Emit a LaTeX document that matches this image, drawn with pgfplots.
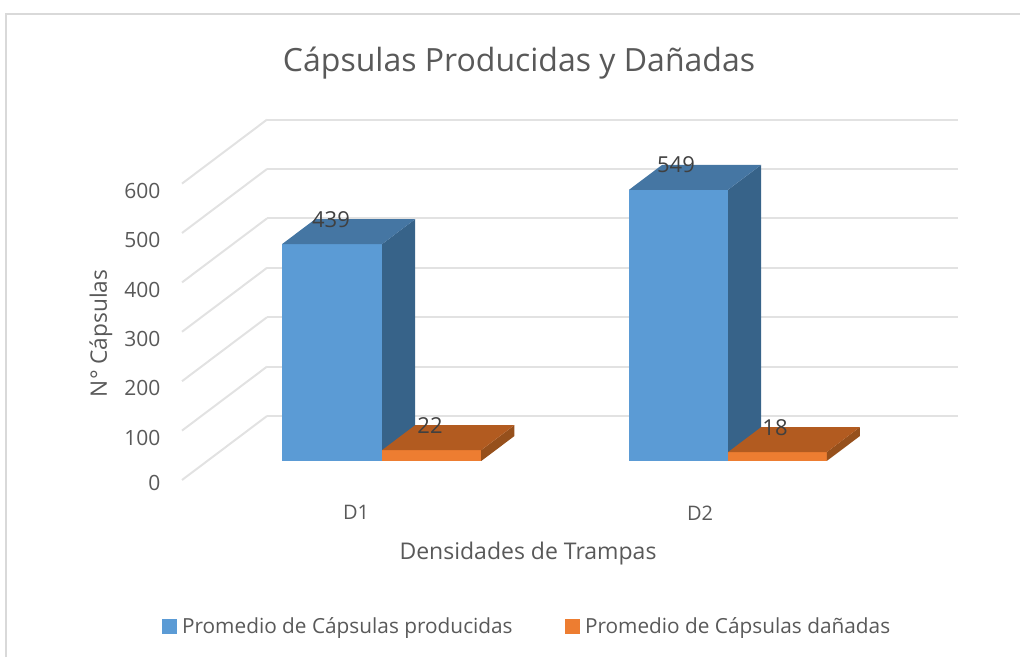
\documentclass[border=0pt]{standalone}
\usepackage{fontspec}
\setmainfont{Open Sans}
\usepackage{pgfplots}
\pgfplotsset{compat=1.18}
\usetikzlibrary{calc}
\definecolor{azul}{HTML}{5B9BD5}
\definecolor{azultop}{HTML}{4576A3}
\definecolor{azulside}{HTML}{376389}
\definecolor{naranja}{HTML}{ED7D31}
\definecolor{naranjatop}{HTML}{B25B20}
\definecolor{naranjaside}{HTML}{96501C}
\definecolor{texto}{HTML}{595959}
\definecolor{rejilla}{HTML}{E2E2E2}
% bar: x0, x1, value, front, top, side colours (depth runs from y=.297 to y=.687)
\newcommand{\barra}[6]{%
  \addplot3[forget plot,draw=none,fill=#4] coordinates {(#1,.297,0) (#2,.297,0) (#2,.297,#3) (#1,.297,#3)} --cycle;
  \addplot3[forget plot,draw=none,fill=#6] coordinates {(#2,.297,0) (#2,.687,0) (#2,.687,#3) (#2,.297,#3)} --cycle;
  \addplot3[forget plot,draw=none,fill=#5] coordinates {(#1,.297,#3) (#2,.297,#3) (#2,.687,#3) (#1,.687,#3)} --cycle;
}
\begin{document}
\begin{tikzpicture}
\begin{axis}[
    x={(1pt,0pt)}, y={(85pt,64pt)}, z={(0pt,.494pt)},
    xmin=0, xmax=691, ymin=0, ymax=1, zmin=0, zmax=600,
    clip=false,
    axis line style={draw=none},
    major tick style={draw=none},
    zmajorgrids=true,
    major grid style={rejilla,line width=2pt},
    xtick={179.5,523.5}, xticklabels={D1,D2},
    ytick=\empty,
    ztick={0,100,...,600},
    /pgf/number format/assume math mode=true,
    xticklabel style={yshift=-22pt,font=\fontsize{20}{22}\selectfont,text=texto},
    zticklabel style={xshift=-18pt,font=\fontsize{21}{22}\selectfont,text=texto},
    zticklabel pos=left,
    title={Cápsulas Producidas y Dañadas},
    title style={at={(axis description cs:.4343,1.139)},anchor=center,font=\fontsize{32}{36}\selectfont,text=texto},
    xlabel={Densidades de Trampas},
    xlabel style={at={(axis description cs:.4459,-.2028)},anchor=center,font=\fontsize{23}{26}\selectfont,text=texto},
    zlabel={N° Cápsulas},
    zlabel style={at={(axis description cs:-.1045,.407)},anchor=center,rotate=0,font=\fontsize{22.7}{26}\selectfont,text=texto},
    legend columns=2,
    legend cell align=left,
    legend style={at={(axis description cs:.4445,-.405)},anchor=center,draw=none,fill=none,
        font=\fontsize{20.8}{24}\selectfont,text=texto,
        /tikz/every even column/.append style={column sep=50pt}},
    legend image code/.code={\fill[#1] (0pt,-7pt) rectangle (14pt,7pt);},
    every node near coord/.style={anchor=center,font=\fontsize{22}{24}\selectfont,text=black!75},
]
\addlegendimage{azul}
\addlegendentry{\hspace{4pt}Promedio de Cápsulas producidas}
\addlegendimage{naranja}
\addlegendentry{\hspace{4pt}Promedio de Cápsulas dañadas}
\barra{74.8}{174.8}{439}{azul}{azultop}{azulside}
\barra{174.8}{274}{22}{naranja}{naranjatop}{naranjaside}
\barra{421.8}{520.8}{549}{azul}{azultop}{azulside}
\barra{520.8}{619.5}{18}{naranja}{naranjatop}{naranjaside}
% data labels
\addplot3[forget plot,draw=none,mark=none,nodes near coords,point meta=z] coordinates {
    (90.6,.687,439) (189.6,.687,22) (435.6,.687,549) (534.6,.687,18)};
\coordinate (O) at (axis cs:0,0,0);
\end{axis}
\draw[line width=1.5pt,black!15] ($(O)+(-176pt,-177pt)$) -- ($(O)+(-176pt,466pt)$) -- ($(O)+(838pt,466pt)$);
\pgfresetboundingbox
\path[use as bounding box] ($(O)+(-182pt,-177pt)$) rectangle ($(O)+(838pt,480pt)$);
\end{tikzpicture}
\end{document}
